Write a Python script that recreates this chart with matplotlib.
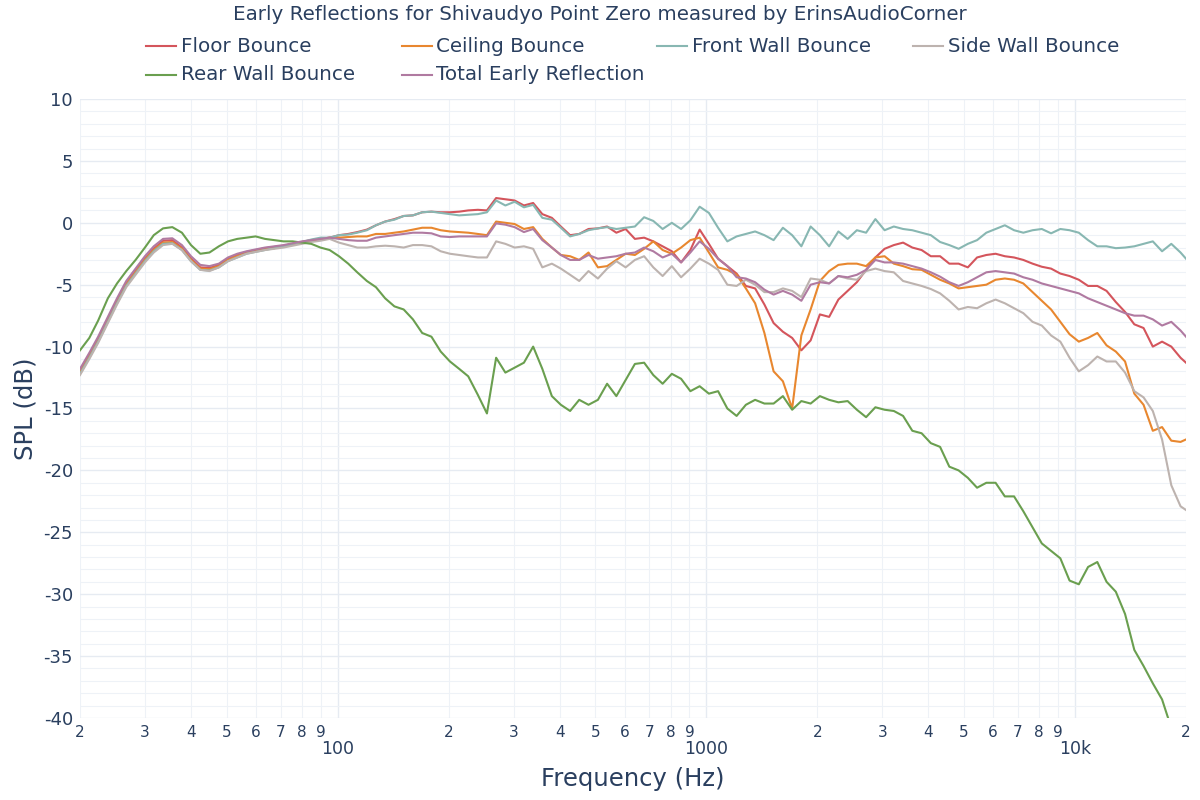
import matplotlib
matplotlib.use("Agg")
import matplotlib.pyplot as plt
from matplotlib.lines import Line2D
from matplotlib.ticker import FixedLocator, FixedFormatter

# frequency points (Hz), roughly 1/12 octave
freq = [20, 21.2, 22.4, 23.8, 25.2, 26.7, 28.3, 30, 31.7, 33.6, 35.6, 37.8, 40, 42.4, 44.9,
        47.6, 50.4, 53.4, 56.6, 59.9, 63.5, 67.3, 71.3, 75.5, 80, 84.8, 89.8, 95.1, 100.8,
        106.8, 113, 120, 127, 134.5, 142.5, 151, 160, 169.5, 179.6, 190.3, 201.6, 213.6, 226,
        240, 254, 269, 285, 302, 320, 339, 359, 381, 403, 427, 452, 479, 508, 538, 570, 604,
        640, 678, 718, 761, 806, 854, 905, 959, 1016, 1076, 1140, 1208, 1280, 1356, 1437,
        1522, 1613, 1709, 1810, 1918, 2032, 2153, 2281, 2417, 2560, 2712, 2874, 3044, 3225,
        3417, 3620, 3836, 4064, 4305, 4561, 4833, 5120, 5424, 5747, 6089, 6451, 6834, 7241,
        7671, 8127, 8611, 9123, 9665, 10240, 10849, 11494, 12177, 12902, 13669, 14482, 15343,
        16255, 17222, 18246, 19331, 20000]

floor_bounce = [-11.9, -10.7, -9.4, -7.8, -6.3, -4.9, -3.9, -2.9, -2.1, -1.45, -1.4, -2.0, -2.9,
                -3.6, -3.65, -3.4, -2.9, -2.6, -2.35, -2.2, -2.05, -1.95, -1.85, -1.7, -1.55,
                -1.4, -1.3,
                -1.2, -1.0, -0.9, -0.75, -0.55, -0.2, 0.1, 0.3, 0.55, 0.6, 0.85, 0.9, 0.85, 0.85,
                0.9, 1.0, 1.05, 1.0, 2.0, 1.9, 1.8, 1.4, 1.6, 0.7, 0.4, -0.3, -1.0, -0.9, -0.5,
                -0.45, -0.3, -0.8, -0.5, -1.3, -1.2, -1.5, -1.9, -2.3, -3.2, -2.2, -0.55, -1.7,
                -2.9, -3.5, -4.1, -5.1, -5.3, -6.6, -8.1, -8.8, -9.3, -10.3, -9.5, -7.4, -7.6,
                -6.2, -5.5, -4.8, -3.8, -2.8, -2.1, -1.8, -1.6, -2.0, -2.2, -2.7, -2.7, -3.3,
                -3.3, -3.6, -2.8, -2.6, -2.5, -2.7, -2.8, -3.0, -3.3, -3.55, -3.7, -4.1, -4.3,
                -4.6, -5.1, -5.1, -5.5, -6.4, -7.2, -8.2, -8.5, -10.0, -9.6, -10.0, -10.9, -11.3]

ceiling_bounce = [-12.1, -10.8, -9.5, -7.9, -6.4, -5.0, -4.0, -3.0, -2.2, -1.6, -1.55, -2.1, -3.0,
                  -3.7, -3.75, -3.5, -3.0, -2.7, -2.45, -2.3, -2.15, -2.05, -1.9, -1.75, -1.6,
                  -1.45, -1.3,
                  -1.2, -1.2, -1.15, -1.1, -1.1, -0.9, -0.9, -0.8, -0.7, -0.55, -0.4, -0.4, -0.6,
                  -0.7, -0.75, -0.8, -0.9, -1.0, 0.1, 0.0, -0.1, -0.5, -0.35, -1.3, -2.0, -2.6,
                  -2.7, -3.0, -2.4, -3.6, -3.5, -3.0, -2.5, -2.6, -2.1, -1.5, -2.2, -2.5, -2.0,
                  -1.4, -1.2, -2.4, -3.6, -3.8, -4.2, -5.3, -6.5, -8.9, -12.0, -12.8, -15.0, -9.1,
                  -7.0, -4.7, -3.9, -3.4, -3.3, -3.3, -3.5, -2.8, -2.7, -3.3, -3.5, -3.75, -3.8,
                  -4.2, -4.6, -4.9, -5.3, -5.2, -5.1, -5.0, -4.6, -4.5, -4.6, -4.9, -5.6, -6.3,
                  -7.0, -8.0, -9.0, -9.6, -9.3, -8.9, -9.9, -10.4, -11.2, -13.8, -14.7, -16.8,
                  -16.5, -17.6, -17.7, -17.5]

front_wall_bounce = [-12.2, -10.9, -9.6, -8.0, -6.5, -5.1, -4.1, -3.1, -2.3, -1.7, -1.65, -2.2,
                     -3.1, -3.8, -3.85, -3.6, -3.1, -2.8, -2.5, -2.35, -2.2, -2.05, -1.9, -1.7,
                     -1.55, -1.35, -1.2,
                     -1.2, -1.0, -0.95, -0.8, -0.6, -0.2, 0.1, 0.25, 0.55, 0.6, 0.85, 0.9, 0.8,
                     0.7, 0.6, 0.65, 0.7, 0.85, 1.8, 1.4, 1.7, 1.25, 1.45, 0.4, 0.25, -0.4, -1.1,
                     -0.9, -0.6, -0.45, -0.35, -0.5, -0.4, -0.3, 0.45, 0.15, -0.5, 0.0, -0.5, 0.2,
                     1.3, 0.8, -0.4, -1.5, -1.1, -0.9, -0.7, -1.0, -1.4, -0.4, -1.0, -1.9, -0.3,
                     -1.0, -1.9, -0.7, -1.3, -0.6, -0.8, 0.3, -0.6, -0.3, -0.5, -0.6, -0.8, -1.0,
                     -1.55, -1.8, -2.1, -1.7, -1.4, -0.8, -0.5, -0.2, -0.6, -0.8, -0.6, -0.5,
                     -0.85, -0.5, -0.6, -0.8, -1.4, -1.9, -1.9, -2.05, -2.0, -1.9, -1.7, -1.5,
                     -2.3, -1.7, -2.4, -2.9]

side_wall_bounce = [-12.3, -11.0, -9.7, -8.1, -6.6, -5.2, -4.2, -3.2, -2.4, -1.8, -1.7, -2.2,
                    -3.1, -3.8, -3.9, -3.6, -3.1, -2.8, -2.5, -2.35, -2.2, -2.1, -2.0, -1.85,
                    -1.7, -1.55, -1.45,
                    -1.3, -1.6, -1.8, -2.0, -2.0, -1.9, -1.85, -1.9, -2.0, -1.8, -1.8, -1.9,
                    -2.3, -2.5, -2.6, -2.7, -2.8, -2.8, -1.5, -1.7, -2.0, -1.9, -2.1, -3.6, -3.3,
                    -3.7, -4.2, -4.7, -3.9, -4.5, -3.7, -3.1, -3.6, -3.0, -2.7, -3.6, -4.3, -3.5,
                    -4.4, -3.7, -2.9, -3.3, -3.8, -5.0, -5.1, -4.6, -5.0, -5.6, -5.6, -5.3, -5.5,
                    -6.0, -4.5, -4.6, -4.9, -4.3, -4.5, -4.6, -3.9, -3.7, -3.9, -4.0, -4.7, -4.9,
                    -5.1, -5.35, -5.7, -6.3, -7.0, -6.8, -6.9, -6.5, -6.2, -6.5, -6.9, -7.3,
                    -8.0, -8.3, -9.1, -9.6, -10.9, -12.0, -11.5, -10.8, -11.2, -11.2, -12.1,
                    -13.6, -14.1, -15.2, -17.5, -21.2, -22.9, -23.2]

rear_wall_bounce = [-10.3, -9.3, -7.9, -6.1, -4.9, -3.9, -3.0, -2.0, -1.0, -0.45, -0.35, -0.8,
                    -1.8, -2.5, -2.4, -1.9, -1.5, -1.3, -1.2, -1.1, -1.3, -1.4, -1.5, -1.5, -1.6,
                    -1.7, -2.0,
                    -2.2, -2.7, -3.3, -4.0, -4.7, -5.2, -6.1, -6.75, -7.0, -7.8, -8.9, -9.2,
                    -10.4, -11.2, -11.8, -12.4, -13.9, -15.4, -10.9, -12.1, -11.7, -11.3, -10.0,
                    -11.8, -14.0, -14.7, -15.2, -14.3, -14.7, -14.3, -13.0, -14.0, -12.7, -11.4,
                    -11.3, -12.3, -13.0, -12.2, -12.6, -13.6, -13.2, -13.8, -13.6, -15.0, -15.6,
                    -14.7, -14.3, -14.6, -14.6, -14.0, -15.1, -14.4, -14.6, -14.0, -14.3, -14.5,
                    -14.4, -15.1, -15.7, -14.9, -15.1, -15.2, -15.6, -16.8, -17.0, -17.8, -18.1,
                    -19.7, -20.0, -20.6, -21.4, -21.0, -21.0, -22.1, -22.1, -23.3, -24.6, -25.9,
                    -26.5, -27.1, -28.9, -29.2, -27.8, -27.4, -29.0, -29.8, -31.6, -34.5, -35.8,
                    -37.2, -38.5, -40.8, -43.0, -44.0]

total_early_reflection = [-11.8, -10.5, -9.2, -7.6, -6.1, -4.7, -3.7, -2.7, -1.9, -1.3, -1.25,
                          -1.8, -2.7, -3.4, -3.5, -3.3, -2.8, -2.5, -2.3, -2.15, -2.0, -1.9,
                          -1.8, -1.65, -1.5, -1.4, -1.3,
                          -1.2, -1.3, -1.4, -1.45, -1.45, -1.2, -1.1, -1.0, -0.9, -0.8, -0.8,
                          -0.85, -1.1, -1.15, -1.1, -1.1, -1.1, -1.1, -0.05, -0.15, -0.35,
                          -0.75, -0.5, -1.4, -2.0, -2.6, -3.0, -3.0, -2.6, -2.9, -2.8, -2.7,
                          -2.5, -2.4, -2.0, -2.3, -2.8, -2.5, -3.2, -2.4, -1.5, -2.1, -2.9,
                          -3.5, -4.4, -4.5, -4.8, -5.4, -5.8, -5.5, -5.8, -6.3, -5.0, -4.8,
                          -4.9, -4.3, -4.4, -4.2, -3.8, -3.0, -3.2, -3.2, -3.3, -3.5, -3.7,
                          -4.0, -4.35, -4.8, -5.1, -4.8, -4.4, -4.0, -3.9, -4.0, -4.1, -4.4,
                          -4.6, -4.9, -5.1, -5.3, -5.5, -5.7, -6.1, -6.4, -6.7, -7.0, -7.3,
                          -7.5, -7.5, -7.8, -8.3, -8.0, -8.7, -9.2]

series = [
    ("Floor Bounce", floor_bounce, "#d4555c"),
    ("Ceiling Bounce", ceiling_bounce, "#e8872f"),
    ("Front Wall Bounce", front_wall_bounce, "#88b7b2"),
    ("Side Wall Bounce", side_wall_bounce, "#bdb3af"),
    ("Rear Wall Bounce", rear_wall_bounce, "#6a9f4f"),
    ("Total Early Reflection", total_early_reflection, "#b07aa1"),
]

major_ticks = [100, 1000, 10000]
major_labels = ["100", "1000", "10k"]
minor_ticks = [20, 30, 40, 50, 60, 70, 80, 90, 200, 300, 400, 500, 600, 700, 800, 900,
               2000, 3000, 4000, 5000, 6000, 7000, 8000, 9000, 20000]
minor_labels = ["2", "3", "4", "5", "6", "7", "8", "9"] * 3 + ["2"]
y_ticks = [10, 5, 0, -5, -10, -15, -20, -25, -30, -35, -40]

text_color = "#2a3f5f"
W, H = 1200, 800

fig = plt.figure(figsize=(12, 8), dpi=100)
ax = fig.add_axes([80 / W, 1 - 718 / H, 1106 / W, 619 / H])

for name, vals, col in series:
    ax.plot(freq, vals, color=col, lw=1.5, solid_joinstyle="round")

ax.set_xscale("log")
ax.set_xlim(20, 20000)
ax.set_ylim(-40, 10)

ax.xaxis.set_major_locator(FixedLocator(major_ticks))
ax.xaxis.set_major_formatter(FixedFormatter(major_labels))
ax.xaxis.set_minor_locator(FixedLocator(minor_ticks))
ax.xaxis.set_minor_formatter(FixedFormatter(minor_labels))
ax.set_yticks(y_ticks)
ax.set_yticklabels([str(v) for v in y_ticks])
ax.set_yticks(list(range(-40, 11)), minor=True)

ax.tick_params(axis="x", which="major", length=0, pad=16, labelsize=12.5, labelcolor=text_color)
ax.tick_params(axis="x", which="minor", length=0, pad=5, labelsize=11, labelcolor=text_color)
ax.tick_params(axis="y", which="both", length=0, pad=5, labelsize=13, labelcolor=text_color)

ax.grid(True, which="major", color="#e6ebf2", lw=1.0)
ax.grid(True, which="minor", color="#eef2f7", lw=0.8)
ax.set_axisbelow(True)
for s in ax.spines.values():
    s.set_visible(False)

ax.set_xlabel("Frequency (Hz)", fontsize=17.5, color=text_color, labelpad=6)
ax.set_ylabel("SPL (dB)", fontsize=17.5, color=text_color, labelpad=4)

fig.text(600 / W, 1 - 15 / H, "Early Reflections for Shivaudyo Point Zero measured by ErinsAudioCorner",
         ha="center", va="center", fontsize=14.3, color=text_color)

# legend laid out like the reference (4 equal columns)
for i, (name, vals, col) in enumerate(series):
    c, r = i % 4, i // 4
    x0 = 146 + c * 255.5
    y0 = 46 + r * 29
    fig.add_artist(Line2D([x0 / W, (x0 + 30) / W], [1 - y0 / H, 1 - y0 / H],
                          color=col, lw=1.5, transform=fig.transFigure))
    fig.text((x0 + 35) / W, 1 - y0 / H, name, ha="left", va="center",
             fontsize=14.3, color=text_color)

fig.savefig("out.png", dpi=100)
